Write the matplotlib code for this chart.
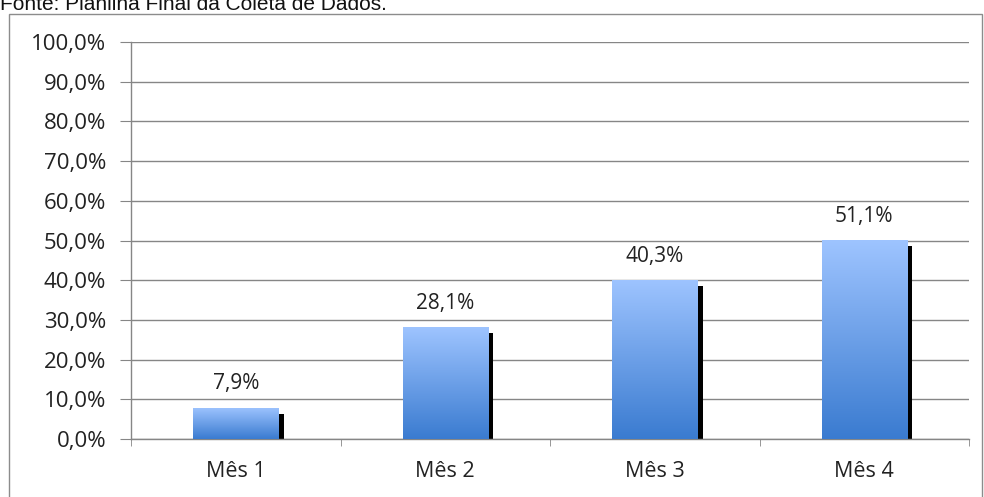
import numpy as np
import matplotlib.pyplot as plt
from matplotlib.patches import Rectangle
from matplotlib.colors import LinearSegmentedColormap

# dados do gráfico
categorias = ["Mês 1", "Mês 2", "Mês 3", "Mês 4"]
rotulos = ["7,9%", "28,1%", "40,3%", "51,1%"]
# altura das barras (a barra do Mês 4 para em ~50%)
alturas = [7.9, 28.1, 40.1, 50.1]
yticks = list(range(0, 101, 10))
ytick_labels = [f"{v},0%" for v in yticks]
fonte = "Fonte: Planilha Final da Coleta de Dados."

fig = plt.figure(figsize=(9.84, 4.97), dpi=100)
ax = fig.add_axes([131 / 984, 1 - 439 / 497, (969 - 131) / 984, (439 - 42) / 497])

# moldura externa e legenda da fonte
fig.patches.append(Rectangle((9 / 984, -0.05), (982 - 9) / 984, 1.05 - 14 / 497,
                             transform=fig.transFigure, fill=False,
                             edgecolor="#8c8c8c", linewidth=1))
fig.text(0.0, 1 - 10 / 497, fonte, fontsize=15, family="Liberation Sans",
         va="baseline", ha="left", color="#111111")

cmap = LinearSegmentedColormap.from_list("azul", ["#3a7bd0", "#9ec4ff"])
grad = np.linspace(0, 1, 256).reshape(-1, 1)

x = np.arange(len(categorias))
largura = 0.406
# sombra preta deslocada
ax.bar(x + 0.025, [v - 1.5 for v in alturas], width=largura, color="black", zorder=2)
barras = ax.bar(x, alturas, width=largura, color="none", zorder=3)
for b, v, r in zip(barras, alturas, rotulos):
    im = ax.imshow(grad, cmap=cmap, origin="lower", aspect="auto",
                   extent=(b.get_x(), b.get_x() + b.get_width(), 0, v), zorder=3)
    im.set_clip_path(b)
    ax.text(b.get_x() + b.get_width() / 2, v + 4.6, r, ha="center", va="baseline",
            fontsize=15, family="Open Sans", color="#222222")

ax.set_xlim(-0.5, len(categorias) - 0.5)
ax.set_ylim(0, 100)
ax.set_yticks(yticks)
ax.set_yticklabels(ytick_labels, family="Open Sans", fontsize=16, color="#222222")
ax.set_xticks(x)
ax.set_xticklabels(categorias, family="Open Sans", fontsize=15.5, color="#222222")
ax.set_xticks(np.arange(-0.5, len(categorias)), minor=True)
ax.tick_params(axis="x", which="major", length=0, pad=16)
ax.tick_params(axis="x", which="minor", length=5, color="#868686", direction="out")
ax.tick_params(axis="y", length=8, color="#868686", pad=10)

ax.grid(axis="y", color="#868686", linewidth=1, zorder=0)
ax.set_axisbelow(True)
for s in ["top", "right"]:
    ax.spines[s].set_visible(False)
for s in ["left", "bottom"]:
    ax.spines[s].set_color("#868686")
    ax.spines[s].set_linewidth(1)

fig.savefig("out.png", dpi=100)
